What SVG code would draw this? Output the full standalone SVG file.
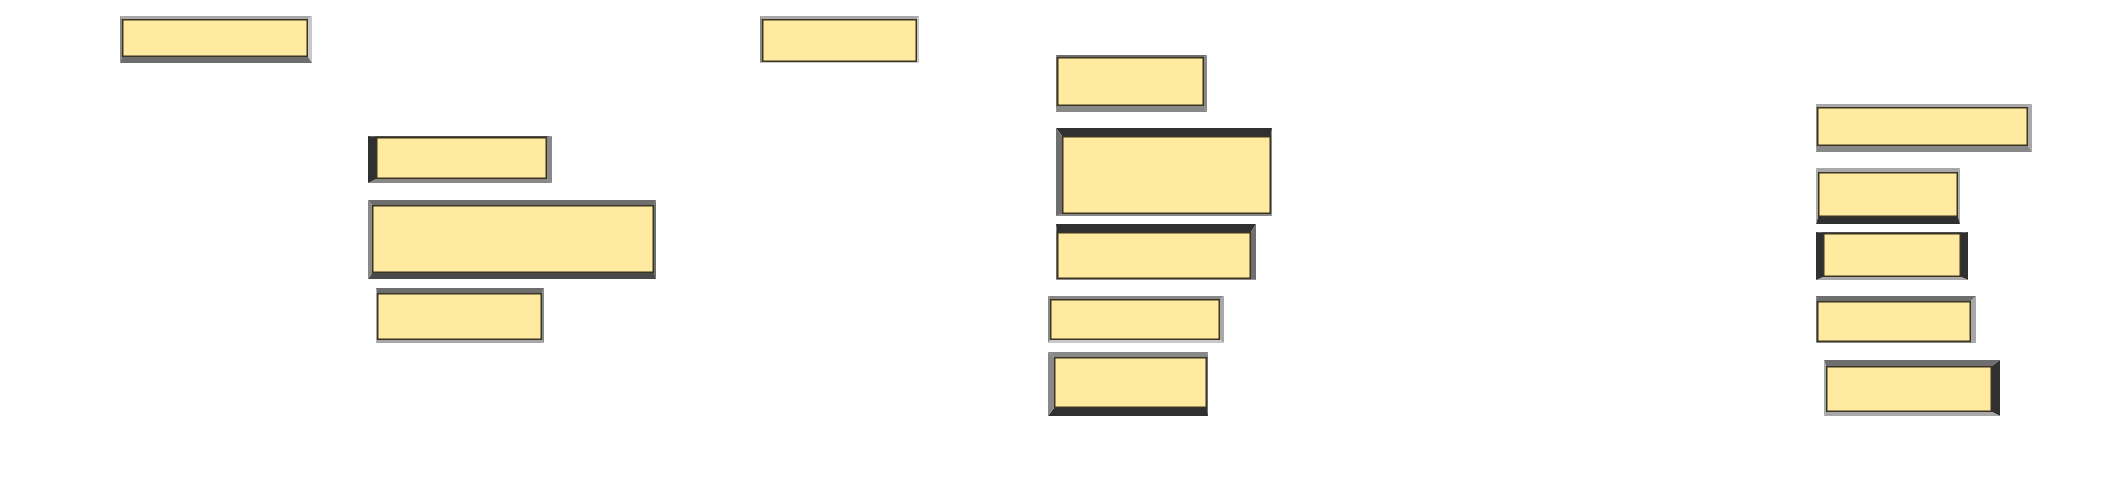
<svg xmlns="http://www.w3.org/2000/svg" width="2118" height="488" viewBox="0 0 2118 488">
<style>
.in{fill:#ffeaa0;stroke:#3b3522;stroke-width:1.5}
.k{fill:#303030}.d{fill:#4a4a4a}.m{fill:#6e6e6e}.g{fill:#888}.l{fill:#a8a8a8}.p{fill:#c8c8c8}
</style>
<rect width="2118" height="488" fill="#fff"/>
<g id="n1"><polygon class="l" points="120,16 312,16 308,19 122,19"/><polygon class="p" points="312,16 312,63 308,57 308,19"/><polygon class="m" points="312,63 120,63 122,57 308,57"/><polygon class="g" points="120,63 120,16 122,19 122,57"/><rect class="in" x="122.75" y="19.75" width="184.5" height="36.5"/></g>
<g id="n2"><polygon class="l" points="760,16 919,16 917,19 762,19"/><polygon class="p" points="919,16 919,63 917,62 917,19"/><polygon class="p" points="919,63 760,63 762,62 917,62"/><polygon class="g" points="760,63 760,16 762,19 762,62"/><rect class="in" x="762.75" y="19.75" width="153.5" height="41.5"/></g>
<g id="n3"><polygon class="d" points="368,136 552,136 547,137 376,137"/><polygon class="g" points="552,136 552,183 547,179 547,137"/><polygon class="g" points="552,183 368,183 376,179 547,179"/><polygon class="k" points="368,183 368,136 376,137 376,179"/><rect class="in" x="376.75" y="137.75" width="169.5" height="40.5"/></g>
<g id="n4"><polygon class="m" points="368,200 656,200 654,205 372,205"/><polygon class="m" points="656,200 656,279 654,273 654,205"/><polygon class="d" points="656,279 368,279 372,273 654,273"/><polygon class="g" points="368,279 368,200 372,205 372,273"/><rect class="in" x="372.75" y="205.75" width="280.5" height="66.5"/></g>
<g id="n5"><polygon class="m" points="376,288 544,288 542,293 377,293"/><polygon class="g" points="544,288 544,343 542,340 542,293"/><polygon class="l" points="544,343 376,343 377,340 542,340"/><polygon class="l" points="376,343 376,288 377,293 377,340"/><rect class="in" x="377.75" y="293.75" width="163.5" height="45.5"/></g>
<g id="n6"><polygon class="m" points="1056,55 1207,55 1204,57 1057,57"/><polygon class="g" points="1207,55 1207,112 1204,106 1204,57"/><polygon class="g" points="1207,112 1056,112 1057,106 1204,106"/><polygon class="m" points="1056,112 1056,55 1057,57 1057,106"/><rect class="in" x="1057.75" y="57.75" width="145.5" height="47.5"/></g>
<g id="n7"><polygon class="k" points="1056,128 1272,128 1271,136 1062,136"/><polygon class="g" points="1272,128 1272,216 1271,214 1271,136"/><polygon class="g" points="1272,216 1056,216 1062,214 1271,214"/><polygon class="m" points="1056,216 1056,128 1062,136 1062,214"/><rect class="in" x="1062.75" y="136.75" width="207.5" height="76.5"/></g>
<g id="n8"><polygon class="k" points="1056,224 1256,224 1251,232 1057,232"/><polygon class="m" points="1256,224 1256,280 1251,279 1251,232"/><polygon class="g" points="1256,280 1056,280 1057,279 1251,279"/><polygon class="m" points="1056,280 1056,224 1057,232 1057,279"/><rect class="in" x="1057.75" y="232.75" width="192.5" height="45.5"/></g>
<g id="n9"><polygon class="g" points="1048,296 1224,296 1220,299 1050,299"/><polygon class="l" points="1224,296 1224,343 1220,340 1220,299"/><polygon class="p" points="1224,343 1048,343 1050,340 1220,340"/><polygon class="g" points="1048,343 1048,296 1050,299 1050,340"/><rect class="in" x="1050.75" y="299.75" width="168.5" height="39.5"/></g>
<g id="n10"><polygon class="g" points="1048,352 1208,352 1207,357 1054,357"/><polygon class="m" points="1208,352 1208,416 1207,408 1207,357"/><polygon class="k" points="1208,416 1048,416 1054,408 1207,408"/><polygon class="g" points="1048,416 1048,352 1054,357 1054,408"/><rect class="in" x="1054.75" y="357.75" width="151.5" height="49.5"/></g>
<g id="n11"><polygon class="l" points="1816,104 2032,104 2028,107 1817,107"/><polygon class="l" points="2032,104 2032,152 2028,146 2028,107"/><polygon class="g" points="2032,152 1816,152 1817,146 2028,146"/><polygon class="g" points="1816,152 1816,104 1817,107 1817,146"/><rect class="in" x="1817.75" y="107.75" width="209.5" height="37.5"/></g>
<g id="n12"><polygon class="l" points="1816,168 1960,168 1958,172 1818,172"/><polygon class="l" points="1960,168 1960,224 1958,217 1958,172"/><polygon class="k" points="1960,224 1816,224 1818,217 1958,217"/><polygon class="l" points="1816,224 1816,168 1818,172 1818,217"/><rect class="in" x="1818.75" y="172.75" width="138.5" height="43.5"/></g>
<g id="n13"><polygon class="d" points="1816,232 1968,232 1961,233 1823,233"/><polygon class="k" points="1968,232 1968,280 1961,277 1961,233"/><polygon class="l" points="1968,280 1816,280 1823,277 1961,277"/><polygon class="k" points="1816,280 1816,232 1823,233 1823,277"/><rect class="in" x="1823.75" y="233.75" width="136.5" height="42.5"/></g>
<g id="n14"><polygon class="m" points="1816,296 1976,296 1971,301 1817,301"/><polygon class="l" points="1976,296 1976,343 1971,342 1971,301"/><polygon class="g" points="1976,343 1816,343 1817,342 1971,342"/><polygon class="m" points="1816,343 1816,296 1817,301 1817,342"/><rect class="in" x="1817.75" y="301.75" width="152.5" height="39.5"/></g>
<g id="n15"><polygon class="m" points="1824,360 2000,360 1992,366 1826,366"/><polygon class="k" points="2000,360 2000,416 1992,412 1992,366"/><polygon class="l" points="2000,416 1824,416 1826,412 1992,412"/><polygon class="l" points="1824,416 1824,360 1826,366 1826,412"/><rect class="in" x="1826.75" y="366.75" width="164.5" height="44.5"/></g>
<g id="connectors"></g>
</svg>
